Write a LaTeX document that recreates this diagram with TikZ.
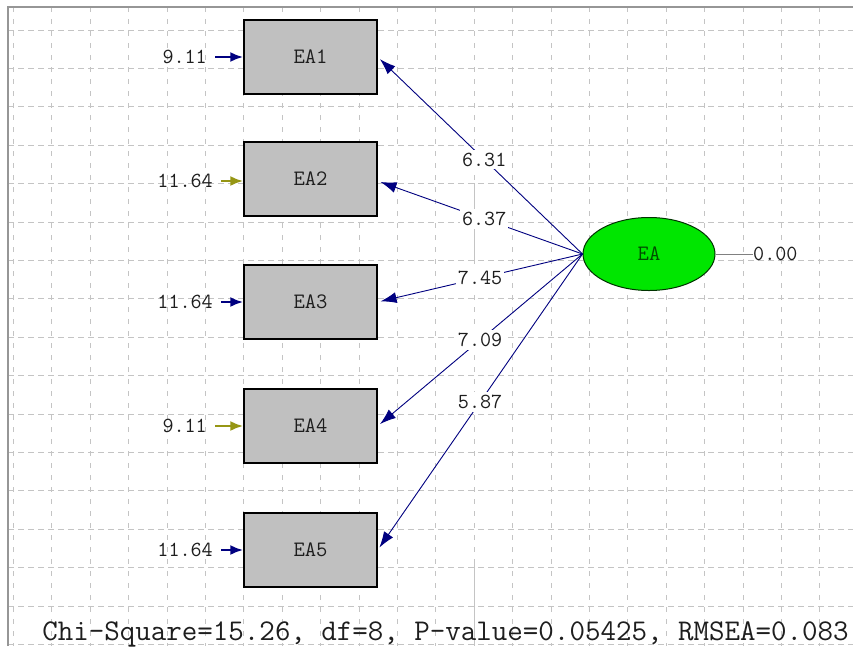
\documentclass[tikz,border=0pt]{standalone}
\usepackage{fontspec}
\usetikzlibrary{arrows.meta,shapes.geometric}
\definecolor{gridc}{RGB}{196,196,196}
\definecolor{framec}{RGB}{150,150,150}
\definecolor{boxgray}{RGB}{192,192,192}
\definecolor{latgreen}{RGB}{0,230,0}
\definecolor{navyc}{RGB}{0,0,128}
\definecolor{olivec}{RGB}{150,150,20}
\definecolor{txt}{RGB}{30,30,30}
\tikzset{
  x=1pt, y=-1pt,
  obsbox/.style={draw=black, line width=1.4pt, fill=boxgray, rectangle,
    minimum width=133pt, minimum height=74pt, inner sep=0pt,
    font=\ttfamily\fontsize{22}{24}\selectfont, text=txt},
  latent/.style={draw=black!80!green, line width=1pt, fill=latgreen, ellipse,
    minimum width=132pt, minimum height=73pt, inner sep=0pt,
    font=\ttfamily\fontsize{22}{24}\selectfont, text=black!70!green},
  numtext/.style={font=\ttfamily\fontsize{21.5}{24}\selectfont, text=txt, inner sep=0pt},
  errtext/.style={numtext, anchor=east, inner xsep=4pt},
  errarrow/.style={line width=2.4pt, shorten <=4pt, -{Latex[length=13pt,width=10pt]}},
  patharrow/.style={navyc, line width=0.9pt, -{Latex[length=16pt,width=11pt]}},
  pathlabel/.style={numtext, fill=white, inner xsep=2pt, inner ysep=3pt},
}
\begin{document}
\begin{tikzpicture}
\useasboundingbox (0,0) rectangle (853,646);
\fill[white] (0,0) rectangle (853,646);
% grid
\foreach \k in {0,...,21}
  \draw[gridc, line width=0.7pt, dash pattern=on 5pt off 7pt] ({13.4+38.4*\k},7) -- ({13.4+38.4*\k},646);
\foreach \k in {0,...,16}
  \draw[gridc, line width=0.7pt, dash pattern=on 6pt off 4pt] (8,{30+38.4*\k}) -- (853,{30+38.4*\k});
\draw[gridc, line width=0.6pt] (474,183) -- (474,262);
\draw[gridc, line width=0.6pt] (474,560) -- (474,646);
% frame
\draw[framec, line width=1.2pt] (8,646) -- (8,7) -- (853,7);

% observed variables
\node[obsbox] (ea1) at (310.5,57)  {EA1};
\node[obsbox] (ea2) at (310.5,179) {EA2};
\node[obsbox] (ea3) at (310.5,302) {EA3};
\node[obsbox] (ea4) at (310.5,426) {EA4};
\node[obsbox] (ea5) at (310.5,550) {EA5};

% latent
\node[latent] (ea) at (649,254) {EA};

% error terms
\node[errtext] (e1) at (211,57)  {9.11};
\node[errtext] (e2) at (217,181) {11.64};
\node[errtext] (e3) at (217,302) {11.64};
\node[errtext] (e4) at (211,426) {9.11};
\node[errtext] (e5) at (217,550) {11.64};
\draw[errarrow, navyc]  (e1.east) -- (ea1.west);
\draw[errarrow, olivec] (e2.east) -- (ea2.west |- e2.east);
\draw[errarrow, navyc]  (e3.east) -- (ea3.west);
\draw[errarrow, olivec] (e4.east) -- (ea4.west);
\draw[errarrow, navyc]  (e5.east) -- (ea5.west);

% latent variance
\node[numtext, anchor=west] (v) at (753,254) {0.00};
\draw[gray, line width=0.6pt] (ea.east) -- (v.west);

% loadings
\draw[patharrow, shorten >=3pt] (ea.west) -- node[pathlabel, pos=0.48] {6.31} (ea1.east);
\draw[patharrow, shorten >=3pt] (ea.west) -- node[pathlabel, pos=0.48] {6.37} (ea2.east |- e2.east);
\draw[patharrow, shorten >=3pt] (ea.west) -- node[pathlabel, pos=0.5] {7.45} (ea3.east);
\draw[patharrow, shorten >=3pt] (ea.west) -- node[pathlabel, pos=0.5] {7.09} (ea4.east);
\draw[patharrow, shorten >=3pt] (ea.west) -- node[pathlabel, pos=0.5] {5.87} (ea5.east);

% fit statistics
\node[font=\ttfamily\fontsize{30.1}{32}\selectfont, text=txt, anchor=base, inner sep=0pt] (fit) at (445.5,640)
  {Chi-Square=15.26, df=8, P-value=0.05425, RMSEA=0.083};
\end{tikzpicture}
\end{document}
